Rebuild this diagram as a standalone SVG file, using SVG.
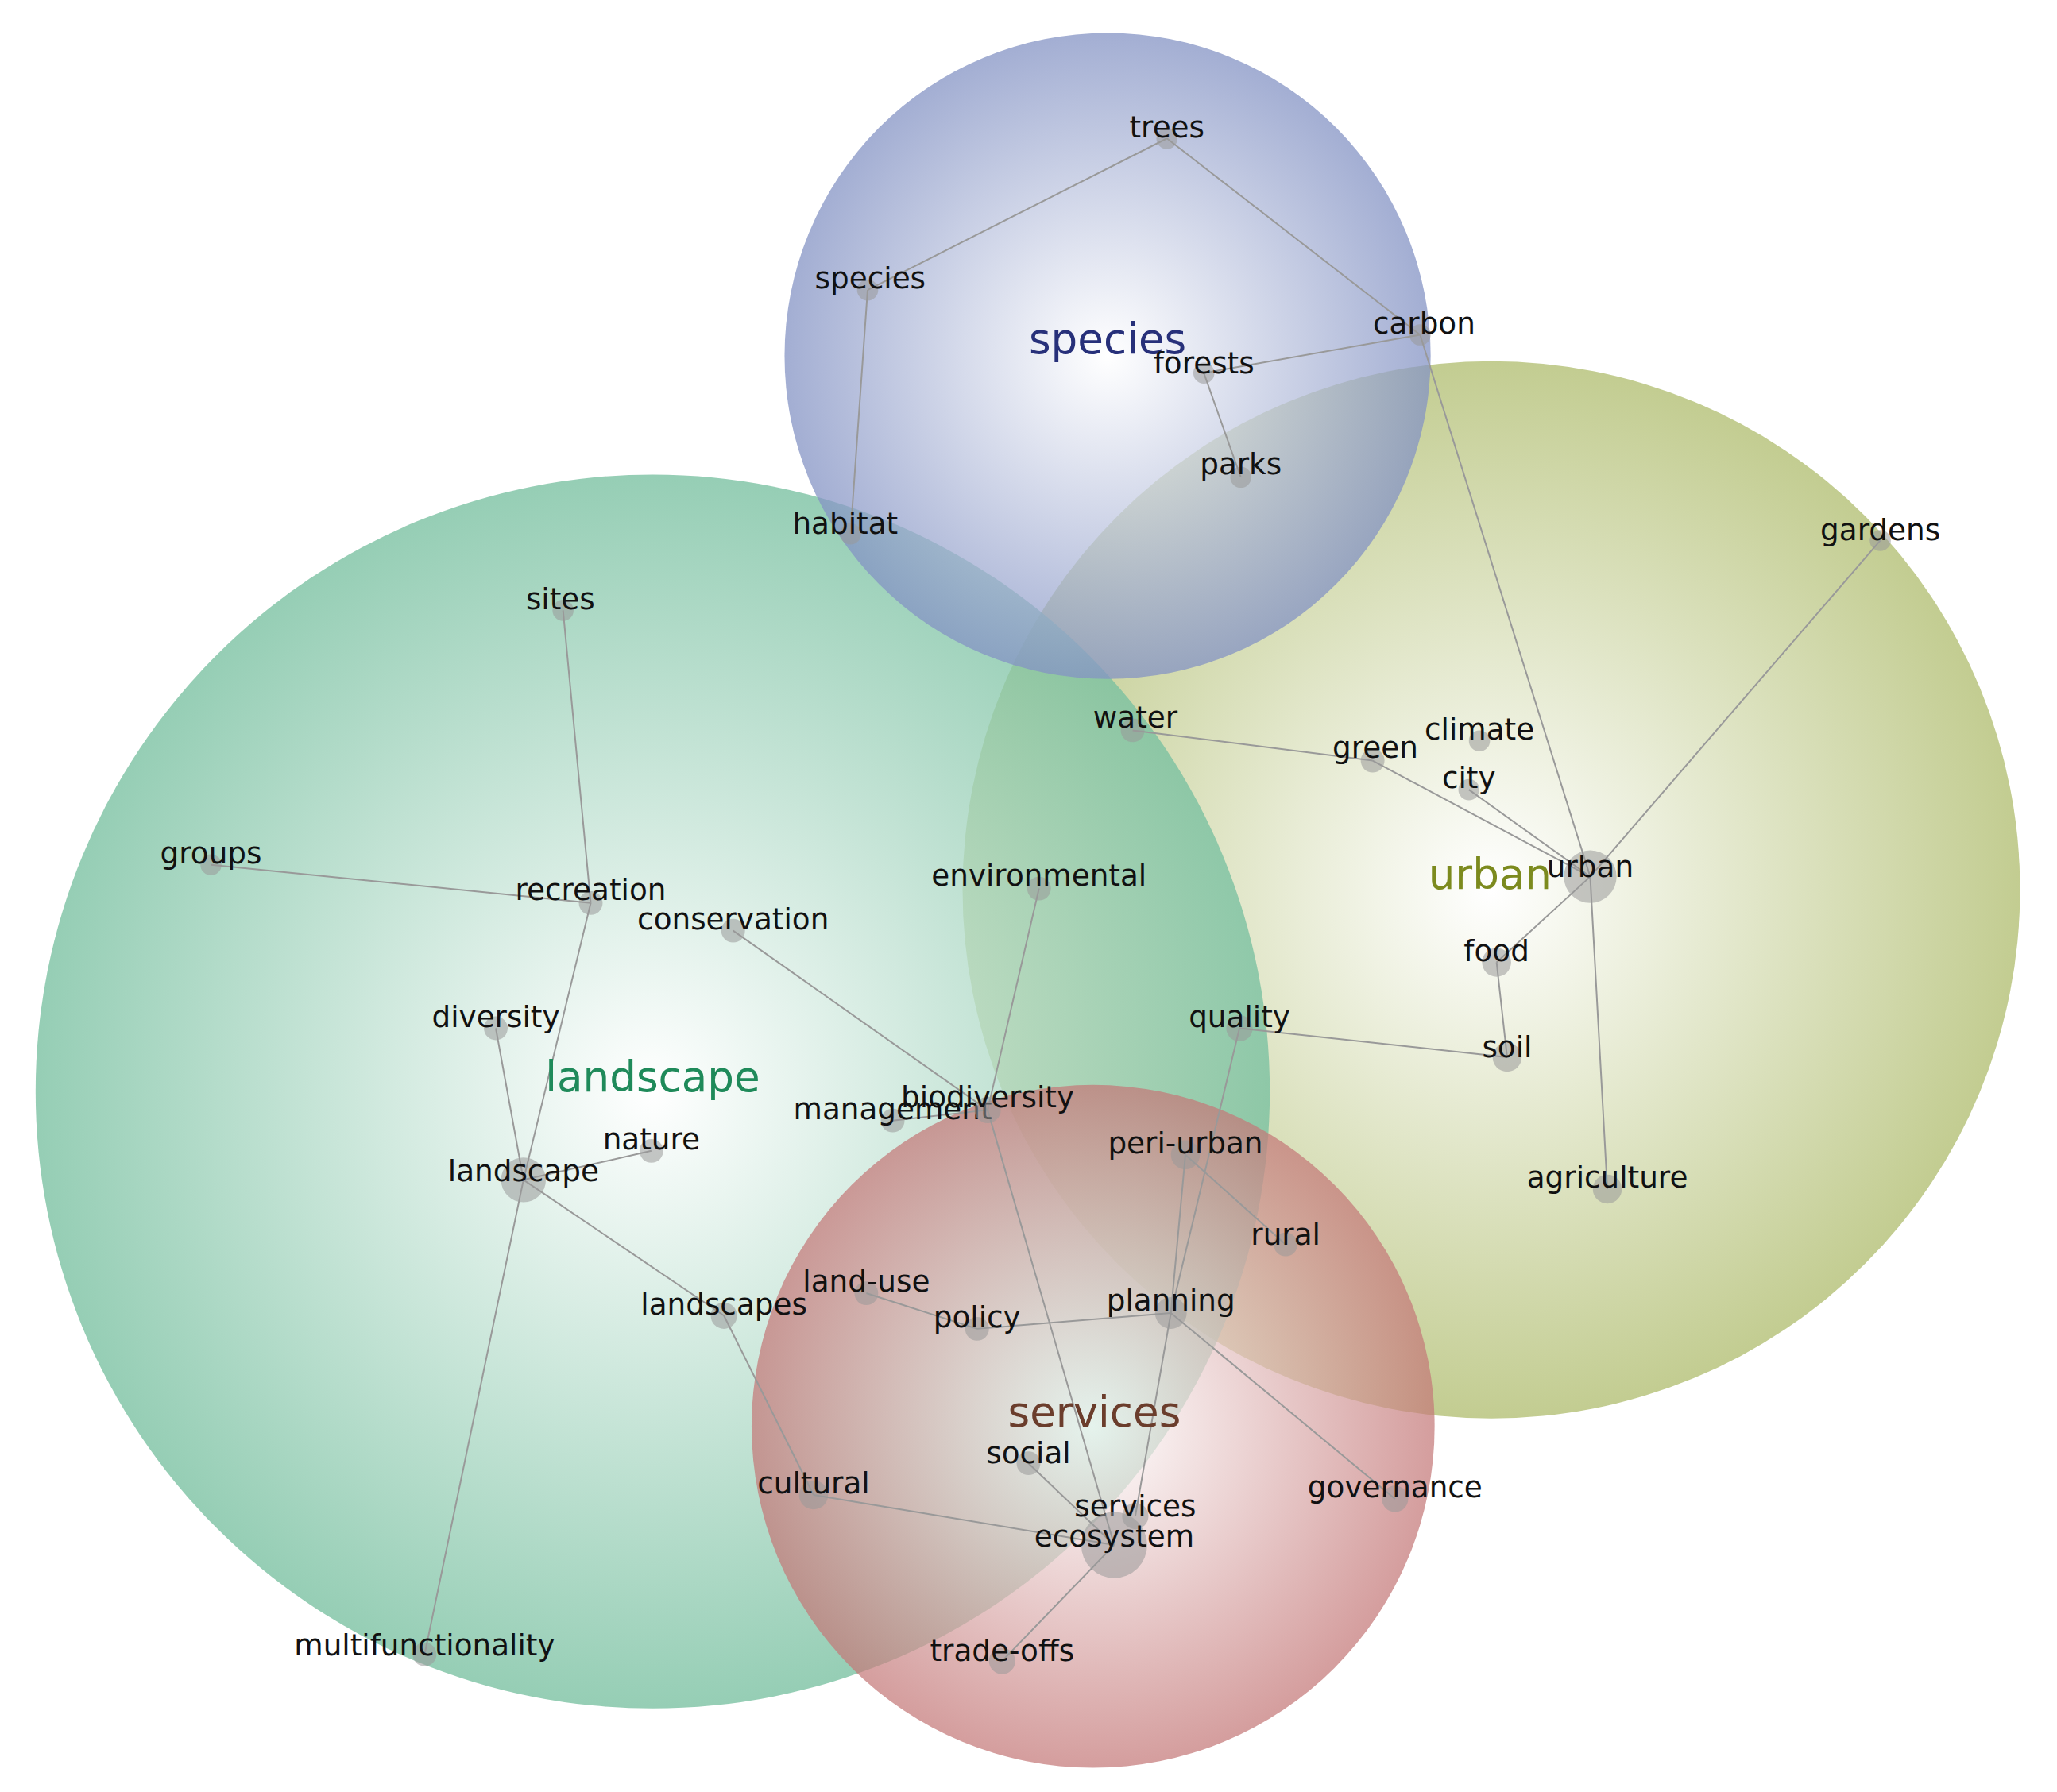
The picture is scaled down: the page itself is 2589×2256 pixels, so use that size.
<svg xmlns="http://www.w3.org/2000/svg" width="2589" height="2256" viewBox="0 0 2589 2256">
<style>
text{font-family:"DejaVu Sans","Liberation Sans",sans-serif;font-size:22.5px;fill:#111;text-anchor:middle}
.cl{font-size:32px}
.e{stroke:#999;stroke-width:1.2;fill:none}
.d{fill:#999;fill-opacity:0.55}
</style>
<defs>
<radialGradient id="gs"><stop offset="0" stop-color="#fff"/><stop offset="1" stop-color="#8493c4"/></radialGradient>
<radialGradient id="gu"><stop offset="0" stop-color="#fff"/><stop offset="1" stop-color="#bcc785"/></radialGradient>
<radialGradient id="gl"><stop offset="0" stop-color="#fff"/><stop offset="1" stop-color="#78c0a0"/></radialGradient>
<radialGradient id="gv"><stop offset="0" stop-color="#fff"/><stop offset="1" stop-color="#c47878"/></radialGradient>
</defs>
<rect width="2589" height="2256" fill="#fff"/>
<g transform="scale(1.6596)">
<g id="clusters">
<circle id="c-urban" cx="1131" cy="675" r="401" fill="url(#gu)" fill-opacity="0.9"/>
<circle id="c-landscape" cx="495" cy="828" r="468" fill="url(#gl)" fill-opacity="0.78"/>
<circle id="c-species" cx="840" cy="270" r="245" fill="url(#gs)" fill-opacity="0.75"/>
<circle id="c-services" cx="829" cy="1082" r="259" fill="url(#gv)" fill-opacity="0.72"/>
</g>
<g id="connectors">
<path class="e" d="M885 105L658 220M885 105L1077 254M658 220L645 405M1077 254L913 283M913 283L941 362M1077 254L1206 665M1426 410L1206 665M859 554L1041 577M1041 577L1206 665M1114 599L1206 665M1206 665L1135 730M1206 665L1219 902M1135 730L1143 802M1143 802L940 780M940 780L888 996M427 463L448 685M160 656L448 685M448 685L397 895M376 780L397 895M494 873L397 895M397 895L549 998M397 895L322 1255M556 706L749 842M788 674L749 842M677 850L749 842M749 842L845 1172M899 876L975 944M899 876L888 996M888 996L741 1008M741 1008L657 981M888 996L1058 1137M888 996L861 1150M549 998L617 1134M617 1134L845 1172M845 1172L760 1260M780 1110L845 1172"/>
</g>
<g id="cluster-labels">
<text class="cl" x="840" y="268" style="fill:#27307a">species</text>
<text class="cl" x="1130" y="674" style="fill:#7c8a1e">urban</text>
<text class="cl" x="495" y="828" style="fill:#1f8a5a">landscape</text>
<text class="cl" x="830" y="1082" style="fill:#6b3d2c">services</text>
</g>
<g id="n-trees"><circle class="d" cx="885" cy="105" r="8"/><text x="885" y="104">trees</text></g>
<g id="n-species"><circle class="d" cx="658" cy="220" r="8"/><text x="660" y="219">species</text></g>
<g id="n-carbon"><circle class="d" cx="1077" cy="254" r="8"/><text x="1080" y="253">carbon</text></g>
<g id="n-forests"><circle class="d" cx="913" cy="283" r="8"/><text x="913" y="283">forests</text></g>
<g id="n-parks"><circle class="d" cx="941" cy="362" r="8"/><text x="941" y="360">parks</text></g>
<g id="n-habitat"><circle class="d" cx="645" cy="405" r="8"/><text x="641" y="405">habitat</text></g>
<g id="n-gardens"><circle class="d" cx="1426" cy="410" r="8"/><text x="1426" y="410">gardens</text></g>
<g id="n-sites"><circle class="d" cx="427" cy="463" r="8"/><text x="425" y="462">sites</text></g>
<g id="n-water"><circle class="d" cx="859" cy="554" r="9"/><text x="861" y="552">water</text></g>
<g id="n-climate"><circle class="d" cx="1122" cy="562" r="8"/><text x="1122" y="561">climate</text></g>
<g id="n-green"><circle class="d" cx="1041" cy="577" r="9"/><text x="1043" y="575">green</text></g>
<g id="n-city"><circle class="d" cx="1114" cy="599" r="8"/><text x="1114" y="598">city</text></g>
<g id="n-groups"><circle class="d" cx="160" cy="656" r="8"/><text x="160" y="655">groups</text></g>
<g id="n-recreation"><circle class="d" cx="448" cy="685" r="9"/><text x="448" y="683">recreation</text></g>
<g id="n-urban"><circle class="d" cx="1206" cy="665" r="20"/><text x="1206" y="665">urban</text></g>
<g id="n-environmental"><circle class="d" cx="788" cy="674" r="9"/><text x="788" y="672">environmental</text></g>
<g id="n-conservation"><circle class="d" cx="556" cy="706" r="9"/><text x="556" y="705">conservation</text></g>
<g id="n-food"><circle class="d" cx="1135" cy="730" r="11"/><text x="1135" y="729">food</text></g>
<g id="n-diversity"><circle class="d" cx="376" cy="780" r="9"/><text x="376" y="779">diversity</text></g>
<g id="n-quality"><circle class="d" cx="940" cy="780" r="10"/><text x="940" y="779">quality</text></g>
<g id="n-soil"><circle class="d" cx="1143" cy="802" r="11"/><text x="1143" y="802">soil</text></g>
<g id="n-management"><circle class="d" cx="677" cy="850" r="9"/><text x="677" y="849">management</text></g>
<g id="n-biodiversity"><circle class="d" cx="749" cy="842" r="10"/><text x="749" y="840">biodiversity</text></g>
<g id="n-nature"><circle class="d" cx="494" cy="873" r="9"/><text x="494" y="872">nature</text></g>
<g id="n-peri-urban"><circle class="d" cx="899" cy="876" r="11"/><text x="899" y="875">peri-urban</text></g>
<g id="n-landscape"><circle class="d" cx="397" cy="895" r="17"/><text x="397" y="896">landscape</text></g>
<g id="n-agriculture"><circle class="d" cx="1219" cy="902" r="11"/><text x="1219" y="901">agriculture</text></g>
<g id="n-rural"><circle class="d" cx="975" cy="944" r="9"/><text x="975" y="944">rural</text></g>
<g id="n-land-use"><circle class="d" cx="657" cy="981" r="9"/><text x="657" y="980">land-use</text></g>
<g id="n-landscapes"><circle class="d" cx="549" cy="998" r="10"/><text x="549" y="997">landscapes</text></g>
<g id="n-policy"><circle class="d" cx="741" cy="1008" r="9"/><text x="741" y="1007">policy</text></g>
<g id="n-planning"><circle class="d" cx="888" cy="996" r="12"/><text x="888" y="994">planning</text></g>
<g id="n-social"><circle class="d" cx="780" cy="1110" r="9"/><text x="780" y="1110">social</text></g>
<g id="n-cultural"><circle class="d" cx="617" cy="1134" r="11"/><text x="617" y="1133">cultural</text></g>
<g id="n-governance"><circle class="d" cx="1058" cy="1137" r="10"/><text x="1058" y="1136">governance</text></g>
<g id="n-services"><circle class="d" cx="861" cy="1150" r="10"/><text x="861" y="1150">services</text></g>
<g id="n-ecosystem"><circle class="d" cx="845" cy="1172" r="25"/><text x="845" y="1173">ecosystem</text></g>
<g id="n-multifunctionality"><circle class="d" cx="322" cy="1255" r="9"/><text x="322" y="1256">multifunctionality</text></g>
<g id="n-trade-offs"><circle class="d" cx="760" cy="1260" r="10"/><text x="760" y="1260">trade-offs</text></g>
</g>
</svg>
